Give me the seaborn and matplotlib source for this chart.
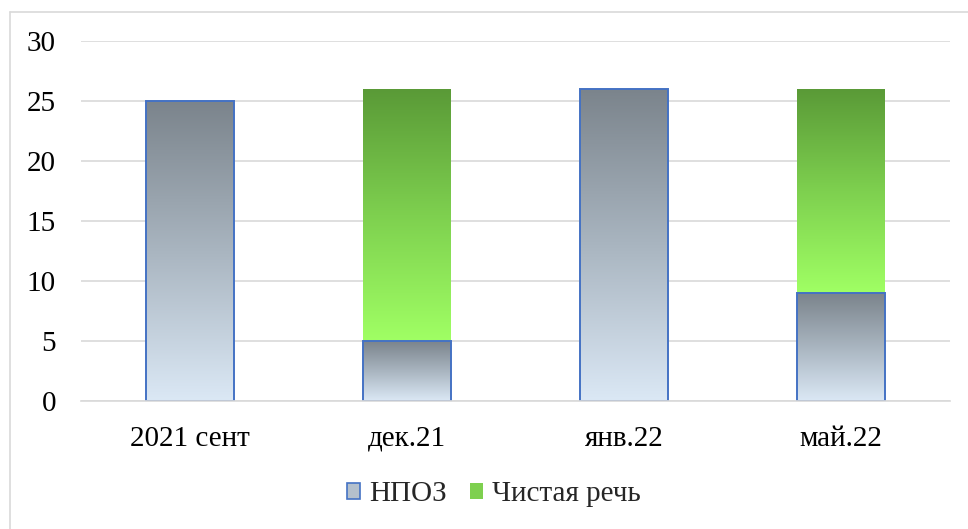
import numpy as np
import pandas as pd
import matplotlib
matplotlib.use("Agg")
import matplotlib.pyplot as plt
from matplotlib.colors import LinearSegmentedColormap
from matplotlib.patches import Patch
from matplotlib.lines import Line2D
import seaborn as sns

# данные
categories = ["2021 сент", "дек.21", "янв.22", "май.22"]
npoz = [25, 5, 26, 9]
clean_speech = [0, 21, 0, 17]
series_names = ["НПОЗ", "Чистая речь"]

sns.set_theme(style="white")
plt.rcParams['font.family'] = ['Liberation Serif', 'DejaVu Serif']

fig = plt.figure(figsize=(9.68, 5.29), dpi=100)
ax = fig.add_axes([0.0837, 0.242, 0.8973, 0.6805])

# внешняя рамка (левая и верхняя стороны)
fx, fy = 9.5 / 968, 1 - 11.5 / 529
fig.lines.append(Line2D([fx, fx], [0, fy], transform=fig.transFigure, color="#d9d9d9", linewidth=1.2))
fig.lines.append(Line2D([fx, 1], [fy, fy], transform=fig.transFigure, color="#d9d9d9", linewidth=1.2))

df = pd.DataFrame({"cat": categories, "npoz": npoz, "clean": clean_speech})
sns.barplot(data=df, x="cat", y="npoz", ax=ax, width=0.405,
            color="#c0ccd8", edgecolor="#4472c4", linewidth=1.4, zorder=3)
gray_bars = list(ax.patches)
green_bars = ax.bar(np.arange(len(categories)), clean_speech, bottom=npoz,
                    width=0.405, color="#7ed04f", linewidth=0, zorder=3)

gray_cmap = LinearSegmentedColormap.from_list("g", ["#dbe8f5", "#a9b5c0", "#7b848c"])
green_cmap = LinearSegmentedColormap.from_list("gr", ["#a0ff64", "#7ed04f", "#5a9a37"])
grad = np.linspace(0, 1, 256).reshape(-1, 1)


def fill_gradient(bar, cmap):
    x, y = bar.get_x(), bar.get_y()
    w, h = bar.get_width(), bar.get_height()
    if h <= 0:
        return
    im = ax.imshow(grad, cmap=cmap, aspect="auto", origin="lower",
                   extent=(x, x + w, y, y + h), zorder=3.5)
    im.set_clip_path(bar)
    bar.set_facecolor("none")
    bar.set_zorder(4)


for b in gray_bars:
    fill_gradient(b, gray_cmap)
for b in green_bars:
    fill_gradient(b, green_cmap)

ax.set_xlim(-0.5, len(categories) - 0.5)
ax.set_ylim(0, 30)
ax.set_yticks(range(0, 31, 5))
ax.grid(axis="y", color="#d9d9d9", linewidth=1.2, zorder=0)
ax.set_axisbelow(True)
for s in ["top", "right", "left"]:
    ax.spines[s].set_visible(False)
ax.spines["bottom"].set_color("#d9d9d9")
ax.spines["bottom"].set_linewidth(1.2)
ax.spines["bottom"].set_zorder(5)
ax.set_xlabel("")
ax.set_ylabel("")
ax.tick_params(axis="y", labelsize=21, pad=18, length=0, colors="black")
ax.tick_params(axis="x", labelsize=21, pad=18, length=0, colors="black")

handles = [Patch(facecolor="#b4c0cc", edgecolor="#4472c4", linewidth=1.2, label=series_names[0]),
           Patch(facecolor="#7ed04f", edgecolor="none", label=series_names[1])]
fig.legend(handles=handles, loc="center", bbox_to_anchor=(0.51, 0.066), ncol=2,
           frameon=False, fontsize=21, handlelength=0.45, handleheight=0.45,
           handletextpad=0.3, columnspacing=0.8)

fig.savefig("out.png", dpi=100)
